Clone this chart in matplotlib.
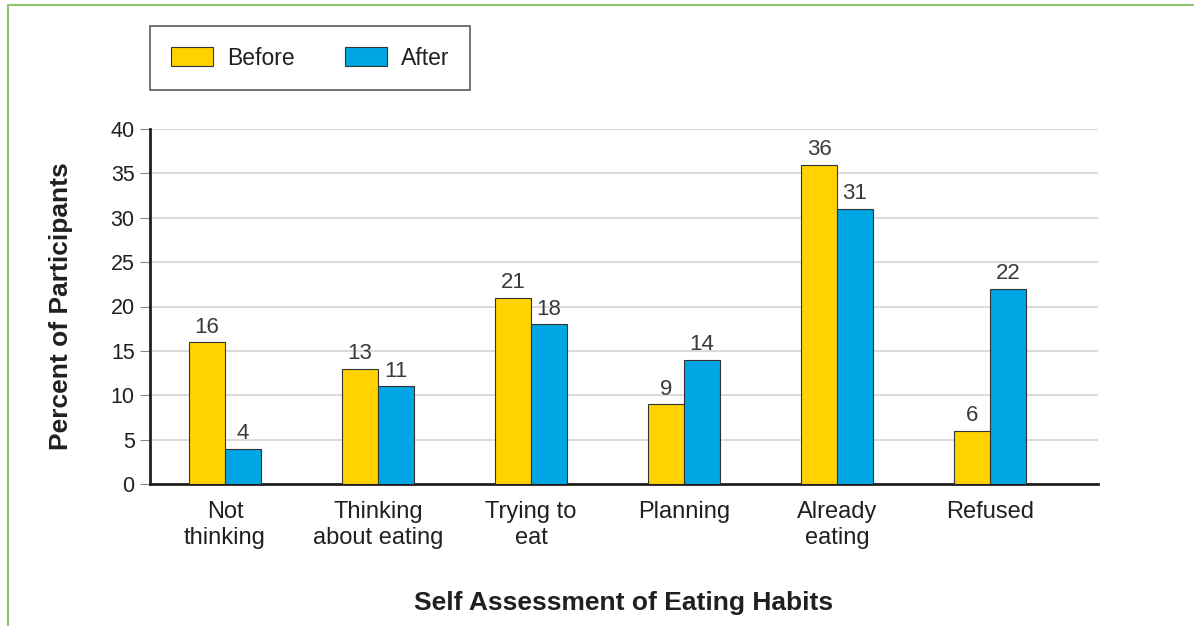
import matplotlib.pyplot as plt
import numpy as np

categories = ["Not\nthinking", "Thinking\nabout eating", "Trying to\neat", "Planning", "Already\neating", "Refused"]
before = [16, 13, 21, 9, 36, 6]
after = [4, 11, 18, 14, 31, 22]

plt.rcParams['font.family'] = ['Liberation Sans', 'DejaVu Sans']
txt = '#231f20'
yellow = '#FFD200'
blue = '#00A5E3'

fig = plt.figure(figsize=(11.94, 6.26), dpi=100)
ax = fig.add_axes([150 / 1194, 1 - 484 / 626, 948 / 1194, 355 / 626])

x = np.arange(len(categories))
w = 0.235
b1 = ax.bar(x - w / 2, before, w, color=yellow, edgecolor='#333333', linewidth=0.8, label='Before', zorder=3)
b2 = ax.bar(x + w / 2, after, w, color=blue, edgecolor='#333333', linewidth=0.8, label='After', zorder=3)

for bars, vals in ((b1, before), (b2, after)):
    for r, v in zip(bars, vals):
        ax.text(r.get_x() + r.get_width() / 2, v + 0.5, str(v), ha='center', va='bottom',
                fontsize=16, color='#3a3a3a')

ax.set_xlim(-0.49, 5.706)
ax.set_ylim(0, 40)
ax.set_yticks(range(0, 41, 5))
ax.set_xticks(x)
ax.set_xticklabels(categories, fontsize=17, color=txt, linespacing=1.25)
ax.tick_params(axis='y', labelsize=15.5, labelcolor=txt, color='#888888', length=7, width=0.8, pad=4)
ax.tick_params(axis='x', length=0, pad=12)
ax.yaxis.grid(True, color='#d4d4d4', linewidth=1.2, zorder=0)
ax.set_axisbelow(True)
for s in ('top', 'right'):
    ax.spines[s].set_visible(False)
for s in ('left', 'bottom'):
    ax.spines[s].set_linewidth(2)
    ax.spines[s].set_color('#231f20')

ax.set_ylabel('Percent of Participants', fontsize=19, fontweight='bold', color=txt, labelpad=27)
ax.set_xlabel('Self Assessment of Eating Habits', fontsize=19, fontweight='bold', color=txt, labelpad=30)

leg = fig.legend(handles=[b1, b2], loc='upper left', bbox_to_anchor=(150 / 1194, 1 - 26 / 626),
                 ncol=2, frameon=True, fancybox=False, fontsize=16.5, handlelength=1.85, handleheight=0.9,
                 columnspacing=2.2, borderpad=0.9, handletextpad=0.6, borderaxespad=0)
leg.get_frame().set_edgecolor('#333333')
leg.get_frame().set_linewidth(1.2)
for t in leg.get_texts():
    t.set_color(txt)

# green frame lines along the top and left edges
fig.add_artist(plt.Line2D([8 / 1194, 1], [1 - 5 / 626, 1 - 5 / 626], color='#8DC86A', linewidth=1.5))
fig.add_artist(plt.Line2D([8 / 1194, 8 / 1194], [0, 1 - 5 / 626], color='#8DC86A', linewidth=1.5))

fig.savefig('out.png', dpi=100)
